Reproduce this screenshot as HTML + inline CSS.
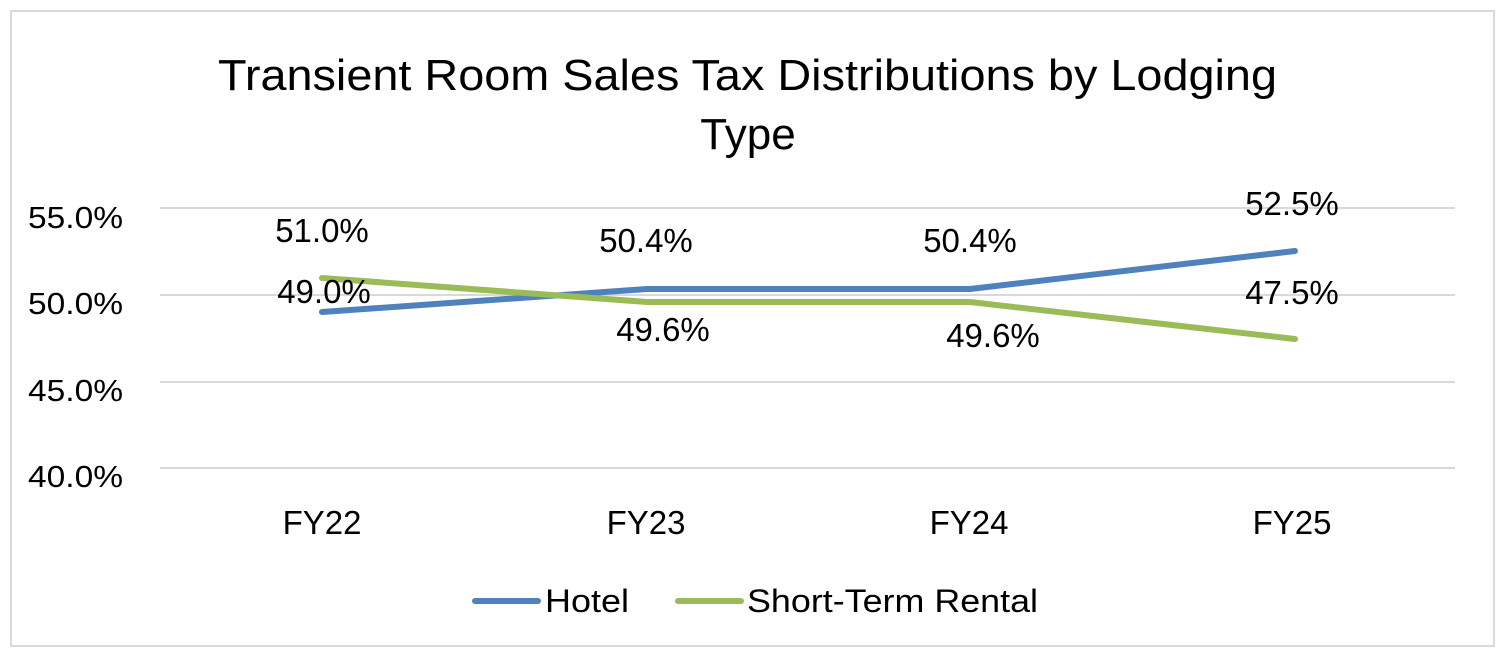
<!DOCTYPE html>
<html><head><meta charset="utf-8"><style>
html,body{margin:0;padding:0;background:#fff;}
svg text{font-family:"Liberation Sans",sans-serif;fill:#000;}
</style></head><body>
<svg width="1506" height="658" viewBox="0 0 1506 658" xmlns="http://www.w3.org/2000/svg">
<rect x="11" y="11" width="1483" height="635" fill="#fff" stroke="#d9d9d9" stroke-width="2"/>
<text x="218" y="90" font-size="44" textLength="1059" lengthAdjust="spacingAndGlyphs">Transient Room Sales Tax Distributions by Lodging</text>
<text x="748" y="149" font-size="44" text-anchor="middle">Type</text>
<g stroke="#d9d9d9" stroke-width="2">
<line x1="160" y1="208" x2="1455" y2="208"/>
<line x1="160" y1="295" x2="1455" y2="295"/>
<line x1="160" y1="382" x2="1455" y2="382"/>
<line x1="160" y1="468" x2="1455" y2="468"/>
</g>
<g font-size="31">
<text x="28" y="228" textLength="95" lengthAdjust="spacingAndGlyphs">55.0%</text>
<text x="28" y="314" textLength="95" lengthAdjust="spacingAndGlyphs">50.0%</text>
<text x="28" y="401" textLength="95" lengthAdjust="spacingAndGlyphs">45.0%</text>
<text x="28" y="487" textLength="95" lengthAdjust="spacingAndGlyphs">40.0%</text>
</g>
<g font-size="33" text-anchor="middle">
<text x="322" y="534">FY22</text>
<text x="646" y="534">FY23</text>
<text x="969" y="534">FY24</text>
<text x="1292" y="534">FY25</text>
</g>
<polyline points="322,312 647,289 970,289 1295,251" fill="none" stroke="#4f81bd" stroke-width="6" stroke-linecap="round" stroke-linejoin="round"/>
<polyline points="322,278 647,302 970,302 1295,339" fill="none" stroke="#9bbb59" stroke-width="6" stroke-linecap="round" stroke-linejoin="round"/>
<g font-size="33" text-anchor="middle">
<text x="322" y="242">51.0%</text>
<text x="324" y="303">49.0%</text>
<text x="646" y="252">50.4%</text>
<text x="663" y="341">49.6%</text>
<text x="970" y="252">50.4%</text>
<text x="993" y="347">49.6%</text>
<text x="1292" y="215">52.5%</text>
<text x="1292" y="304">47.5%</text>
</g>
<line x1="475" y1="601" x2="538" y2="601" stroke="#4f81bd" stroke-width="6" stroke-linecap="round"/>
<text x="545" y="612" font-size="32" textLength="84" lengthAdjust="spacingAndGlyphs">Hotel</text>
<line x1="678" y1="601" x2="741" y2="601" stroke="#9bbb59" stroke-width="6" stroke-linecap="round"/>
<text x="747" y="612" font-size="32" textLength="291" lengthAdjust="spacingAndGlyphs">Short-Term Rental</text>
</svg>
</body></html>
